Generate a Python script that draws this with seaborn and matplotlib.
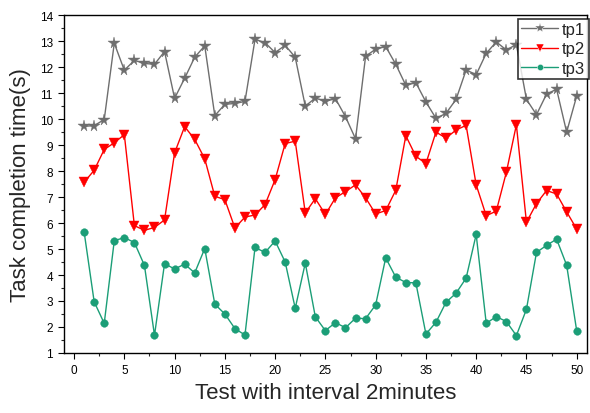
import numpy as np
import pandas as pd
import seaborn as sns
import matplotlib
matplotlib.use("Agg")
import matplotlib.pyplot as plt
from matplotlib.ticker import MultipleLocator

tests = list(range(1, 51))
tp1 = [9.72, 9.75, 9.98, 12.92, 11.88, 12.26, 12.14, 12.11, 12.6, 10.8,
       11.57, 12.38, 12.82, 10.13, 10.57, 10.6, 10.68, 13.07, 12.94, 12.56,
       12.84, 12.38, 10.5, 10.81, 10.68, 10.79, 10.09, 9.24, 12.42, 12.69,
       12.79, 12.11, 11.3, 11.4, 10.66, 10.03, 10.22, 10.76, 11.89, 11.71,
       12.53, 12.97, 12.66, 12.87, 10.76, 10.17, 10.96, 11.15, 9.5, 10.89]
tp2 = [7.57, 8.03, 8.83, 9.09, 9.4, 5.9, 5.72, 5.83, 6.12, 8.7,
       9.71, 9.22, 8.47, 7.03, 6.9, 5.81, 6.23, 6.31, 6.71, 7.67,
       9.06, 9.15, 6.39, 6.94, 6.33, 6.97, 7.21, 7.47, 6.97, 6.35,
       6.48, 7.26, 9.36, 8.57, 8.29, 9.5, 9.27, 9.58, 9.76, 7.47,
       6.28, 6.46, 7.95, 9.78, 6.03, 6.75, 7.25, 7.12, 6.43, 5.77]
tp3 = [5.66, 2.97, 2.14, 5.32, 5.44, 5.25, 4.37, 1.68, 4.44, 4.23,
       4.42, 4.08, 5.02, 2.88, 2.5, 1.94, 1.69, 5.06, 4.87, 5.31,
       4.5, 2.72, 4.46, 2.39, 1.86, 2.17, 1.97, 2.34, 2.32, 2.85,
       4.66, 3.92, 3.71, 3.7, 1.73, 2.18, 2.95, 3.3, 3.88, 5.56,
       2.14, 2.4, 2.21, 1.67, 2.68, 4.87, 5.14, 5.38, 4.38, 1.85]
series_names = ["tp1", "tp2", "tp3"]

df = pd.DataFrame({
    "test": tests * 3,
    "time": tp1 + tp2 + tp3,
    "series": [s for s in series_names for _ in tests],
})

sns.set_style("ticks")
plt.rcParams["font.family"] = ["Liberation Sans", "DejaVu Sans"]

fig = plt.figure(figsize=(5.9, 4.14), dpi=100)
ax = fig.add_axes([0.1085, 0.145, 0.886, 0.816])

palette = {"tp1": "#6e6e6e", "tp2": "#ff0000", "tp3": "#1b9e77"}
markers = {"tp1": "*", "tp2": "v", "tp3": "o"}
sns.lineplot(data=df, x="test", y="time", hue="series", style="series",
             palette=palette, markers=markers, dashes=False, ax=ax,
             linewidth=1.0, markeredgewidth=0.3)
sizes = {"tp1": 8.5, "tp2": 7, "tp3": 5.5}
for line, name in zip(ax.get_lines()[:3], series_names):
    line.set_markersize(sizes[name])
    line.set_markeredgecolor(palette[name])

ax.set_xlim(-1, 51)
ax.set_ylim(1, 14)
ax.xaxis.set_major_locator(MultipleLocator(5))
ax.xaxis.set_minor_locator(MultipleLocator(2.5))
ax.yaxis.set_major_locator(MultipleLocator(1))
ax.yaxis.set_minor_locator(MultipleLocator(0.5))
ax.tick_params(which="major", direction="out", length=4.5, width=0.8,
               labelsize=8.5, colors="black")
ax.tick_params(which="minor", direction="out", length=2.5, width=0.8)
for sp in ax.spines.values():
    sp.set_visible(True)
    sp.set_color("black")
    sp.set_linewidth(1.0)

ax.set_xlabel("Test with interval 2minutes", fontsize=16, labelpad=4)
ax.set_ylabel("Task completion time(s)", fontsize=16, labelpad=6)

handles, labels = ax.get_legend_handles_labels()
for h, name in zip(handles, labels):
    if name in sizes:
        h.set_markersize(sizes[name] - 1)
leg = fig.legend(handles=handles, labels=labels, loc="upper right",
                 fontsize=12, frameon=True, fancybox=False, edgecolor="black",
                 borderpad=0.2, labelspacing=0.25, handlelength=2.2,
                 handletextpad=0.25, borderaxespad=0.0,
                 bbox_to_anchor=(0.998, 0.952))
ax.get_legend().remove()
leg.get_frame().set_linewidth(1.2)

fig.savefig("out.png", dpi=100)
